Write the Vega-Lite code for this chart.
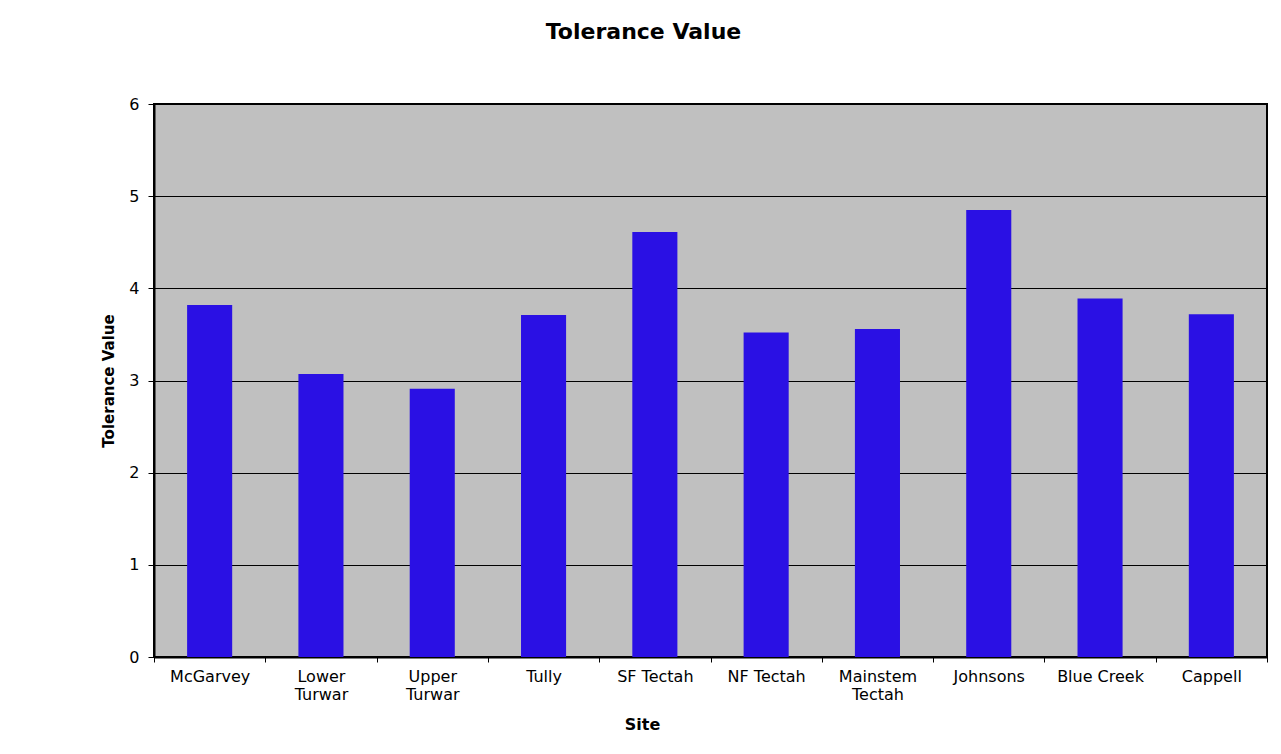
{
  "$schema": "https://vega.github.io/schema/vega-lite/v6.json",
  "autosize": "none",
  "width": 1113,
  "height": 553,
  "padding": {"left": 154, "top": 104, "right": 14, "bottom": 97},
  "background": "white",
  "title": {
    "text": "Tolerance Value",
    "font": "DejaVu Sans",
    "fontSize": 22,
    "fontWeight": "bold",
    "color": "black",
    "anchor": "middle",
    "dx": -67,
    "offset": 52
  },
  "data": {
    "values": [
      {"site": "McGarvey", "value": 3.82},
      {"site": "Lower Turwar", "value": 3.07},
      {"site": "Upper Turwar", "value": 2.91},
      {"site": "Tully", "value": 3.71},
      {"site": "SF Tectah", "value": 4.61},
      {"site": "NF Tectah", "value": 3.52},
      {"site": "Mainstem Tectah", "value": 3.56},
      {"site": "Johnsons", "value": 4.85},
      {"site": "Blue Creek", "value": 3.89},
      {"site": "Cappell", "value": 3.72}
    ]
  },
  "mark": {"type": "bar", "color": "#2a10e4", "width": {"band": 0.405}},
  "encoding": {
    "x": {
      "field": "site",
      "type": "nominal",
      "sort": null,
      "title": "Site",
      "scale": {"paddingInner": 0, "paddingOuter": 0},
      "axis": {
        "labelAngle": 0,
        "tickBand": "extent",
        "labelExpr": "indexof(['Lower Turwar','Upper Turwar','Mainstem Tectah'], datum.label) >= 0 ? split(datum.label, ' ') : datum.label",
        "labelFont": "DejaVu Sans",
        "labelFontSize": 16,
        "labelColor": "black",
        "labelPadding": 6,
        "labelLineHeight": 18,
        "tickColor": "black",
        "tickSize": 5,
        "domainColor": "black",
        "domainWidth": 2,
        "titleFont": "DejaVu Sans",
        "titleFontSize": 16,
        "titleFontWeight": "bold",
        "titleColor": "black",
        "titlePadding": 14,
        "titleX": 488,
        "grid": false
      }
    },
    "y": {
      "field": "value",
      "type": "quantitative",
      "title": "Tolerance Value",
      "scale": {"domain": [0, 6]},
      "axis": {
        "values": [0, 1, 2, 3, 4, 5, 6],
        "labelFont": "DejaVu Sans",
        "labelFontSize": 16,
        "labelColor": "black",
        "labelPadding": 9,
        "tickColor": "black",
        "tickSize": 6,
        "domainColor": "black",
        "domainWidth": 2,
        "gridColor": "black",
        "gridWidth": 1,
        "gridOpacity": 1,
        "titleFont": "DejaVu Sans",
        "titleFontSize": 15,
        "titleFontWeight": "bold",
        "titleColor": "black",
        "titlePadding": 12
      }
    }
  },
  "config": {
    "view": {"fill": "#c0c0c0", "stroke": "black", "strokeWidth": 2}
  }
}
